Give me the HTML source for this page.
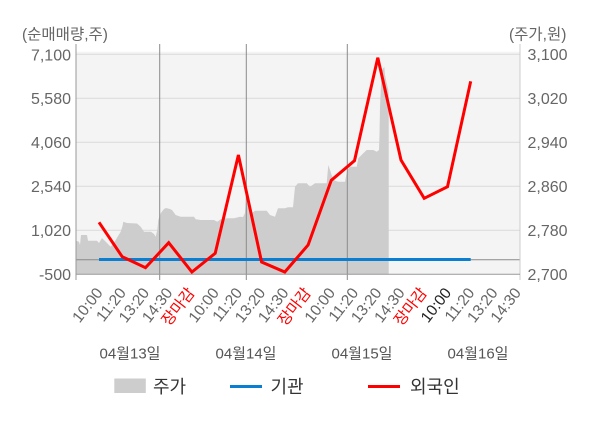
<!DOCTYPE html>
<html>
<head>
<meta charset="utf-8">
<style>
  html,body{margin:0;padding:0;background:#fff;}
  svg{display:block;}
  text{font-family:"Liberation Sans","Noto Sans CJK KR",sans-serif;}
</style>
</head>
<body>
<svg width="600" height="428" viewBox="0 0 600 428" xmlns="http://www.w3.org/2000/svg">
  <rect x="0" y="0" width="600" height="428" fill="#ffffff"/>
  <!-- plot background -->
  <rect x="76" y="51.7" width="444" height="222.6" fill="#f4f4f4"/>
  <!-- gridlines -->
  <g stroke="#d9d9d9" stroke-width="1">
    <line x1="76" y1="54.3" x2="520" y2="54.3"/>
    <line x1="76" y1="98.3" x2="520" y2="98.3"/>
    <line x1="76" y1="142.3" x2="520" y2="142.3"/>
    <line x1="76" y1="186.3" x2="520" y2="186.3"/>
    <line x1="76" y1="230.3" x2="520" y2="230.3"/>
  </g>
  <!-- price area -->
  <polygon fill="#cdcdcd" points="76,274.3 76,240.7 79,241.7 80,245 81,235 87,235 88,240.7 97,240.7 99,243 102,238 105,241 107,243 110.7,246.7 113,244 115.7,240 118,236 120.7,231.7 122.5,226 123.3,221.7 127,223 137,223.5 140.7,226.7 144,231.7 151,231.7 154,234 155.7,236.7 157.3,230 158.3,220 160.7,213.3 164,209 166,208 170,209 172,210 175.7,215 180.7,216.7 194,216.7 195.7,219.3 200.7,220 214,220 217.3,221.7 220.7,219.3 227,218.3 234,218.3 240,216.7 243,217 245,213 246,200 248.3,206.7 251.7,213.3 255,210.7 266.7,210.7 270,215 275,216.7 278,208.3 285,208.3 288,207.3 293,207.3 295,186.7 298,183.3 306.7,183.3 310,186.7 315,183.3 326.7,183.3 328.3,165 330,170 333.3,180 338,181.7 345,181.7 347.3,170 350,166.7 356.7,166.7 358.3,158.3 363.3,153.3 366.7,150 373.3,150 376.7,151.7 379,150 379.5,135 380,106.7 381.7,70 383.3,68.3 384.3,66.7 385,75 386.7,83.3 388.3,90 388.7,95 388.7,274.3"/>
  <!-- day separators -->
  <g stroke="#8a8a8a" stroke-width="1">
    <line x1="159.7" y1="44" x2="159.7" y2="280"/>
    <line x1="246.3" y1="44" x2="246.3" y2="280"/>
    <line x1="347.3" y1="44" x2="347.3" y2="280"/>
  </g>
  <!-- zero line -->
  <line x1="76" y1="259.8" x2="520" y2="259.8" stroke="#8a8a8a" stroke-width="1"/>
  <!-- axes -->
  <line x1="76" y1="44" x2="76" y2="280" stroke="#999" stroke-width="1"/>
  <line x1="520" y1="44" x2="520" y2="280" stroke="#cccccc" stroke-width="1"/>
  <line x1="76" y1="274.3" x2="520" y2="274.3" stroke="#999" stroke-width="1"/>
  <!-- blue line -->
  <line x1="99" y1="259.5" x2="470.7" y2="259.5" stroke="#0a7fd1" stroke-width="3"/>
  <!-- red line -->
  <polyline fill="none" stroke="#ff0000" stroke-width="3" stroke-linejoin="miter" points="99,222.3 122.2,256.7 145.5,267.7 168.7,242.7 191.9,272 215.2,253.3 238.4,155 261.6,262 284.8,272 308.1,245 331.3,180.3 354.5,160.7 377.8,57.7 401,160 424.2,198.3 447.5,186.7 470.7,81.3"/>

  <!-- axis titles -->
  <text x="22" y="39.5" font-size="15.5" fill="#666">(순매매량,주)</text>
  <text x="509" y="39.5" font-size="15.5" fill="#666">(주가,원)</text>

  <!-- left labels -->
  <g font-size="16" fill="#666" text-anchor="end">
    <text x="71" y="60.5">7,100</text>
    <text x="71" y="104">5,580</text>
    <text x="71" y="148">4,060</text>
    <text x="71" y="192">2,540</text>
    <text x="71" y="236">1,020</text>
    <text x="71" y="280">-500</text>
  </g>
  <!-- right labels -->
  <g font-size="16" fill="#666">
    <text x="527.5" y="60">3,100</text>
    <text x="527.5" y="104">3,020</text>
    <text x="527.5" y="148">2,940</text>
    <text x="527.5" y="192">2,860</text>
    <text x="527.5" y="236">2,780</text>
    <text x="527.5" y="280">2,700</text>
  </g>

  <!-- x labels -->
  <g font-size="15.5" fill="#666" text-anchor="end">
    <text transform="translate(103.5,293) rotate(-52)">10:00</text>
    <text transform="translate(126.7,293) rotate(-52)">11:20</text>
    <text transform="translate(150,293) rotate(-52)">13:20</text>
    <text transform="translate(173.2,293) rotate(-52)">14:30</text>
    <text transform="translate(195.4,293) rotate(-52)" fill="#ff0000">장마감</text>
    <text transform="translate(219.7,293) rotate(-52)">10:00</text>
    <text transform="translate(242.9,293) rotate(-52)">11:20</text>
    <text transform="translate(266.1,293) rotate(-52)">13:20</text>
    <text transform="translate(289.3,293) rotate(-52)">14:30</text>
    <text transform="translate(311.6,293) rotate(-52)" fill="#ff0000">장마감</text>
    <text transform="translate(335.8,293) rotate(-52)">10:00</text>
    <text transform="translate(359,293) rotate(-52)">11:20</text>
    <text transform="translate(382.3,293) rotate(-52)">13:20</text>
    <text transform="translate(405.5,293) rotate(-52)">14:30</text>
    <text transform="translate(427.7,293) rotate(-52)" fill="#ff0000">장마감</text>
    <text transform="translate(452,293) rotate(-52)" fill="#222">10:00</text>
    <text transform="translate(475.2,293) rotate(-52)">11:20</text>
    <text transform="translate(498.4,293) rotate(-52)">13:20</text>
    <text transform="translate(521.7,293) rotate(-52)">14:30</text>
  </g>

  <!-- date labels -->
  <g font-size="15" fill="#555" text-anchor="middle">
    <text x="130" y="358.5">04월13일</text>
    <text x="246" y="358.5">04월14일</text>
    <text x="362" y="358.5">04월15일</text>
    <text x="478" y="358.5">04월16일</text>
  </g>

  <!-- legend -->
  <rect x="114.3" y="378.5" width="31.5" height="14.5" fill="#cdcdcd"/>
  <text x="153" y="393" font-size="18" fill="#333">주가</text>
  <line x1="230" y1="386.5" x2="262" y2="386.5" stroke="#0a7fd1" stroke-width="3"/>
  <text x="270.5" y="393" font-size="18" fill="#333">기관</text>
  <line x1="368" y1="386.5" x2="400" y2="386.5" stroke="#ff0000" stroke-width="3"/>
  <text x="410" y="393" font-size="18" fill="#333">외국인</text>
</svg>
</body>
</html>
